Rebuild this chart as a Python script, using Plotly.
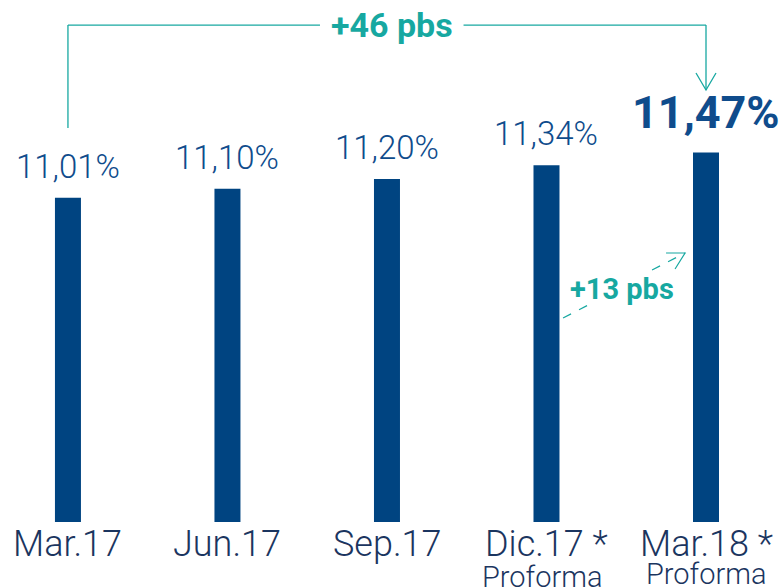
import plotly.graph_objects as go

categories = ["Mar.17", "Jun.17", "Sep.17", "Dic.17 *", "Mar.18 *"]
sublabels = ["", "", "", "Proforma", "Proforma"]
values = [11.01, 11.10, 11.20, 11.34, 11.47]
value_labels = ["11,01%", "11,10%", "11,20%", "11,34%", "11,47%"]
total_change = "+46 pbs"
last_change = "+13 pbs"

NAVY = "#004481"
LABEL = "#0f4c8c"
TICK = "#1b355f"
TEAL = "#17a8a1"
FONT = "Roboto"

x = list(range(len(categories)))
Y0, Y1 = 7.70, 13.027
X0, X1 = -0.426, 4.489

fig = go.Figure()
fig.add_trace(go.Bar(x=x, y=values, width=0.163, marker=dict(color=NAVY, line=dict(width=0)),
                     hoverinfo="skip"))

# value labels
for i, (v, t) in enumerate(zip(values, value_labels)):
    last = i == len(values) - 1
    fig.add_annotation(x=i, y=v, text=t, showarrow=False, xanchor="center", yanchor="bottom",
                       yshift=10 if not last else 12,
                       font=dict(family=FONT, size=45 if last else 33,
                                 weight=700 if last else 300, color=LABEL))

# category labels
for i, (c, s) in enumerate(zip(categories, sublabels)):
    fig.add_annotation(x=i, y=0, yref="paper", text=c, showarrow=False, xanchor="center",
                       yanchor="top", yshift=1,
                       font=dict(family=FONT, size=36, weight=300, color=TICK))
    if s:
        fig.add_annotation(x=i - (0.025 if i == 3 else 0.0), y=0, yref="paper", text=s, showarrow=False,
                           xanchor="center", yanchor="top", yshift=-36 if i == 3 else -33,
                           font=dict(family=FONT, size=29, weight=300, color=TICK))

# +46 pbs bracket
top_y = Y0 + (522 - 25) / 98
left_bottom = Y0 + (522 - 128) / 98
tip_y = Y0 + (522 - 90) / 98
fig.add_shape(type="line", x0=0, x1=0, y0=left_bottom, y1=top_y, line=dict(color=TEAL, width=1.3))
fig.add_shape(type="line", x0=0, x1=1.58, y0=top_y, y1=top_y, line=dict(color=TEAL, width=1.3))
fig.add_shape(type="line", x0=2.48, x1=4, y0=top_y, y1=top_y, line=dict(color=TEAL, width=1.3))
fig.add_shape(type="line", x0=4, x1=4, y0=top_y, y1=tip_y, line=dict(color=TEAL, width=1.3))
fig.add_shape(type="path", xsizemode="pixel", ysizemode="pixel", xanchor=4, yanchor=tip_y,
              path="M-10,17 L0,0 L10,17", line=dict(color=TEAL, width=1.3))
fig.add_annotation(x=2.03, y=top_y, text=total_change, showarrow=False, xanchor="center",
                   yanchor="middle", font=dict(family=FONT, size=34, weight=700, color=TEAL))

# +13 pbs dashed arrow
def px2x(px):
    return X0 + px / 159.5

def py2y(py):
    return Y0 + (522 - py) / 98

fig.add_shape(type="line", x0=px2x(563), y0=py2y(318), x1=px2x(594), y1=py2y(302),
              line=dict(color=TEAL, width=1.2, dash="dash"))
fig.add_shape(type="line", x0=px2x(652), y0=py2y(270), x1=px2x(685), y1=py2y(253),
              line=dict(color=TEAL, width=1.2, dash="dash"))
fig.add_shape(type="path", xsizemode="pixel", ysizemode="pixel", xanchor=px2x(685), yanchor=py2y(253),
              path="M-19,0 L0,0 L-10,-16", line=dict(color=TEAL, width=1.2))
fig.add_annotation(x=px2x(622), y=py2y(289), text=last_change, showarrow=False, xanchor="center",
                   yanchor="middle", font=dict(family=FONT, size=29, weight=700, color=TEAL))

fig.update_layout(
    width=784, height=587, margin=dict(l=0, r=0, t=0, b=65),
    paper_bgcolor="white", plot_bgcolor="white", showlegend=False,
    xaxis=dict(range=[X0, X1], visible=False, fixedrange=True),
    yaxis=dict(range=[Y0, Y1], visible=False, fixedrange=True),
)
fig.write_html("out.html", config={"displayModeBar": False},
               post_script="document.body.style.margin='0';document.body.style.overflow='hidden';")
